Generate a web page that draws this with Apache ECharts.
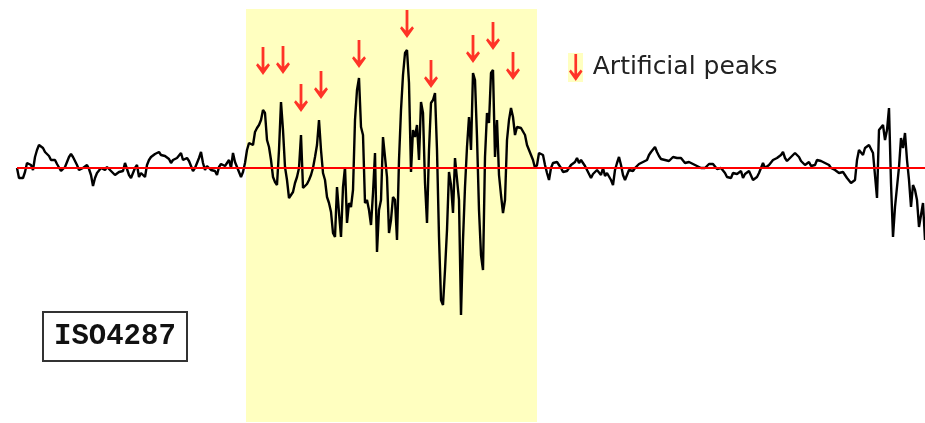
<!DOCTYPE html>
<html>
<head>
<meta charset="utf-8">
<script src="https://cdn.jsdelivr.net/npm/echarts@6/dist/echarts.min.js"></script>
<style>
  html, body { margin: 0; padding: 0; background: #fff; }
  #chart { width: 925px; height: 423px; }
</style>
</head>
<body>
<div id="chart"></div>
<script>
// Roughness profile heights relative to the mean line (0.1 µm per unit), one sample per step.
const profileHeights = [
  // lead-in section
  0,-10,-12,-10,-4,5,6,3,-2,11,18,23,22,20,16,14,12,8,6,8,4,2,-3,-2,1,6,11,14,11,7,
  3,-2,-3,0,2,3,-1,-7,-18,-10,-5,-3,0,0,-2,1,0,-3,-5,-7,-5,-4,-2,-3,5,6,-7,
  -10,-5,0,3,-9,-5,-7,-9,3,8,11,13,14,15,16,13,15,12,11,9,5,8,7,10,12,15,8,6,10,7,
  5,-3,0,5,10,16,5,-2,2,1,-2,0,-3,-7,1,4,5,2,0,8,0,15,6,1,-4,-9,-4,5,
  // section with artificial peaks
  18,25,26,23,36,40,43,48,58,55,28,21,8,-9,-14,-17,18,66,38,1,
  -12,-30,-32,-24,-15,-9,0,33,-20,-18,-16,-12,-7,0,11,23,48,18,-5,-12,
  -29,-35,-44,-65,-69,-19,-45,-69,-19,1,-55,-35,-39,-22,48,78,90,41,33,-35,
  -32,-42,-57,-25,15,-84,-42,-32,31,11,-9,-65,-52,-29,-32,-72,8,58,93,115,
  118,85,-4,38,31,43,8,66,55,-15,-55,18,65,68,75,18,-69,-132,-137,-102,
  -62,-4,-17,-45,10,8,-32,-147,-72,-19,21,51,18,95,88,31,-42,-87,-102,11,
  55,45,95,98,11,48,-7,-27,-45,-32,28,48,60,51,33,41,40,40,38,33,
  23,18,13,8,0,3,
  // trailing section
  15,16,13,3,-5,-12,0,5,6,6,5,0,-4,-2,-3,0,3,5,6,10,
  5,8,6,2,-2,-6,-10,-6,-4,-2,-4,-7,0,-8,-5,-7,-12,-17,-2,5,
  11,3,-7,-12,-13,-2,0,-3,0,2,4,5,6,6,8,13,16,18,21,16,
  12,9,7,8,8,7,8,11,13,10,8,10,8,5,6,6,5,4,3,2,
  1,0,0,0,2,4,6,4,3,-1,-2,0,-2,-5,-9,
  -8,-10,-5,-7,-6,-4,-3,-10,-6,-5,-3,-2,-12,-10,-9,-5,0,5,0,0,
  3,3,8,7,10,12,13,16,10,7,8,11,13,15,13,11,7,6,3,5,
  6,2,1,3,8,10,7,6,5,4,3,0,0,-2,-4,-5,-4,-4,-7,-10,
  -12,-15,-17,-12,8,18,16,13,20,18,23,25,15,13,-30,38,40,43,28,38,
  60,-15,-69,-39,-39,1,30,20,35,8,-12,-39,-17,-22,-32,-59,-47,-35,-72
];

// Sample positions of the artificial peaks and the heights where their markers point.
const peakPositions   = [123, 133, 142, 152, 171, 195, 207, 228, 238, 248];
const peakArrowHeights = [93, 94, 56, 69, 100, 130, 80, 105, 118, 88];

// Sample range and height range of the modified section.
const modifiedRange  = [114.5, 260];
const modifiedHeights = [159, -254];

const meanLineHeight = 0;
const heightRange = [-255, 168];

const legendLabel = 'Artificial peaks';
const standardLabel = 'ISO4287';

// Down arrow: shaft plus chevron head, tip at the bottom centre.
const ARROW = 'path://M5.6,0L8.4,0L8.4,20.5L12.2,16.2L14,18.2L7,28L0,18.2L1.8,16.2L5.6,20.5Z';

const profileData = profileHeights.map((h, i) => [i, h]);
const arrowData = peakPositions.map((p, i) => [p, peakArrowHeights[i]]);

const chart = echarts.init(document.getElementById('chart'), null, { renderer: 'canvas' });

chart.setOption({
  animation: false,
  backgroundColor: '#ffffff',
  grid: { left: 17, right: 0, top: 0, bottom: 0 },
  xAxis: { type: 'value', min: 0, max: profileHeights.length - 1, show: false },
  yAxis: { type: 'value', min: heightRange[0], max: heightRange[1], show: false },
  title: {
    text: standardLabel,
    left: 43,
    top: 312,
    padding: [10, 11],
    borderWidth: 2,
    borderColor: '#333333',
    textStyle: {
      fontFamily: 'Liberation Mono',
      fontWeight: 'bold',
      fontSize: 29,
      color: '#111111'
    }
  },
  graphic: [{
    type: 'rect',
    left: 568,
    top: 53,
    z: 0,
    shape: { width: 15, height: 29 },
    style: { fill: '#ffffc0' }
  }],
  legend: {
    left: 569,
    top: 54,
    padding: 0,
    itemWidth: 14,
    itemHeight: 27,
    selectedMode: false,
    data: [{ name: legendLabel, icon: ARROW }],
    textStyle: {
      fontFamily: 'DejaVu Sans',
      fontSize: 25,
      color: '#222222',
      padding: [0, 0, 0, 5]
    }
  },
  series: [
    {
      name: 'Profile',
      type: 'line',
      data: profileData,
      showSymbol: false,
      silent: true,
      z: 3,
      lineStyle: { color: '#000000', width: 2.4 },
      markArea: {
        silent: true,
        itemStyle: { color: '#ffffc0' },
        data: [[
          { xAxis: modifiedRange[0], yAxis: modifiedHeights[0] },
          { xAxis: modifiedRange[1], yAxis: modifiedHeights[1] }
        ]]
      },
      markLine: {
        silent: true,
        symbol: 'none',
        label: { show: false },
        lineStyle: { color: '#ff0000', width: 2, type: 'solid' },
        data: [{ yAxis: meanLineHeight }]
      }
    },
    {
      name: legendLabel,
      type: 'scatter',
      data: arrowData,
      symbol: ARROW,
      symbolSize: [14, 28],
      symbolOffset: [0, '-50%'],
      silent: true,
      z: 6,
      itemStyle: { color: '#ff0000' }
    }
  ]
});
</script>
</body>
</html>
